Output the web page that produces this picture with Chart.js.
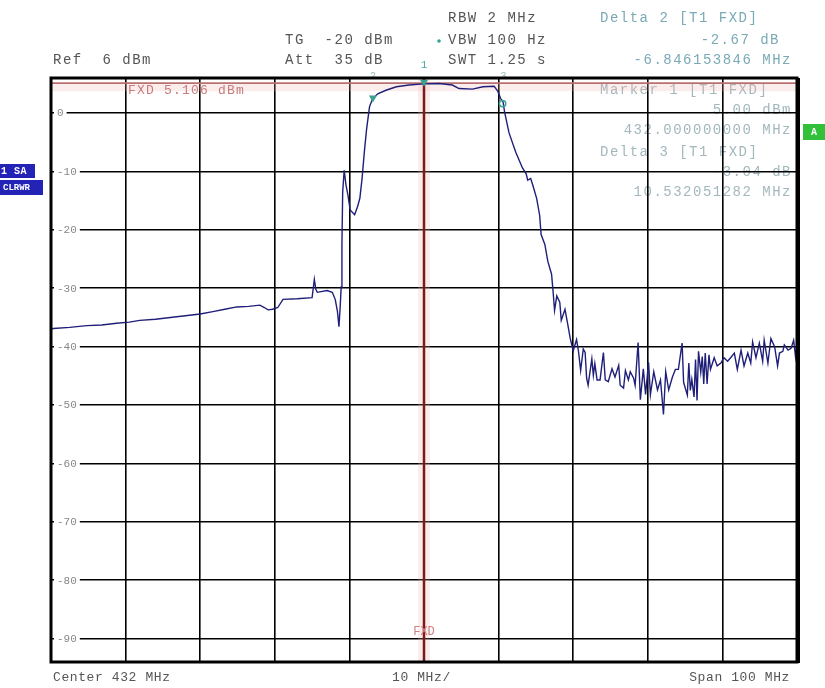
<!DOCTYPE html>
<html>
<head>
<meta charset="utf-8">
<script src="https://cdn.jsdelivr.net/npm/chart.js@4.4.1/dist/chart.umd.min.js"></script>
<style>
  html, body { margin: 0; padding: 0; background: #fff; }
  canvas { display: block; }
</style>
</head>
<body>
<canvas id="spectrum" width="825" height="688"></canvas>
<script>
// ------------------------
// Trace data
// ------------------------

const freqMHz = [
  382.0, 382.3, 384.5, 386.8, 388.8, 390.8, 392.5, 393.9, 396.0, 398.0,
  400.0, 402.0, 403.7, 405.3, 406.9, 408.5, 410.0, 410.6, 411.1, 411.7,
  412.4, 413.1, 415.0, 417.0, 417.3, 417.5, 417.7, 419.0, 419.7, 420.1,
  420.4, 420.6, 420.75, 420.9, 421.0, 421.1, 421.3, 421.55, 421.8, 422.1,
  422.7, 423.1, 423.4, 423.7, 424.0, 424.3, 424.7, 425.1, 425.8, 426.9,
  428.3, 430.0, 432.0, 434.0, 435.8, 436.7, 438.5, 439.9, 441.4, 441.9,
  442.3, 442.6, 442.8, 443.4, 444.3, 445.2, 445.7, 445.9, 446.3, 446.6,
  447.1, 447.5, 447.7, 448.2, 448.6, 449.1, 449.3, 449.5, 449.8, 450.2,
  450.4, 450.9, 451.3, 451.6, 452.0, 452.45, 452.7, 453.0, 453.35, 453.6,
  453.8, 454.0, 454.5, 454.7, 454.9, 455.2, 455.6, 456.05, 456.3, 456.7,
  457.2, 457.6, 458.1, 458.3, 458.75, 459.0, 459.4, 459.65, 460.1, 460.3,
  460.7, 461.0, 461.4, 461.7, 462.1, 462.35, 462.8, 463.3, 463.7, 464.1,
  464.4, 464.8, 465.3, 465.7, 466.1, 466.6, 466.8, 467.3, 467.5, 467.7,
  467.9, 468.2, 468.4, 468.6, 468.8, 469.1, 469.3, 469.5, 469.7, 469.95,
  470.2, 470.4, 470.9, 471.3, 471.8, 472.2, 472.7, 473.1, 473.6, 474.0,
  474.5, 474.9, 475.4, 475.8, 476.05, 476.5, 476.95, 477.4, 477.6, 478.1,
  478.5, 479.0, 479.4, 479.65, 480.1, 480.3, 480.8, 481.2, 481.55, 481.8,
  482.0
];

const levelDbm = [
  -37.0, -36.9, -36.7, -36.4, -36.3, -36.0, -35.8, -35.5, -35.3, -35.0,
  -34.7, -34.4, -34.0, -33.6, -33.2, -33.1, -32.9, -33.3, -33.7, -33.6,
  -33.3, -31.9, -31.8, -31.6, -28.5, -30.2, -30.7, -30.4, -30.7, -31.9,
  -34.0, -36.6, -33.5, -29.8, -22.5, -13.5, -9.8, -12.4, -14.0, -16.6,
  -17.4, -16.0, -14.6, -11.2, -6.7, -2.8, 1.1, 2.4, 3.3, 3.9,
  4.5, 4.8, 5.0, 5.05, 4.8, 4.2, 4.1, 4.5, 4.6, 3.7,
  2.4, 1.9, 0.2, -3.4, -6.7, -9.4, -10.4, -11.5, -11.2, -12.4,
  -14.6, -17.5, -20.8, -22.5, -25.4, -27.6, -30.5, -33.8, -31.3, -32.4,
  -35.5, -33.6, -36.4, -38.6, -40.7, -38.8, -40.7, -44.1, -40.4, -41.0,
  -45.4, -46.6, -42.1, -44.9, -42.9, -45.7, -45.7, -41.0, -45.7, -46.0,
  -43.8, -45.2, -43.2, -46.6, -47.1, -44.1, -45.7, -44.3, -45.4, -46.6,
  -39.3, -49.1, -43.8, -48.2, -42.7, -48.2, -44.3, -47.4, -45.7, -51.6,
  -44.3, -47.4, -45.2, -43.9, -43.9, -39.4, -46.1, -48.3, -42.8, -47.5,
  -45.6, -48.6, -42.2, -49.2, -40.8, -44.4, -41.7, -46.4, -41.1, -46.4,
  -41.4, -43.9, -41.9, -43.3, -42.8, -41.9, -42.5, -41.9, -41.1, -43.9,
  -40.6, -43.3, -41.1, -42.8, -39.2, -41.9, -39.4, -42.5, -38.9, -42.8,
  -38.6, -40.0, -43.3, -41.1, -40.8, -39.7, -40.6, -40.3, -38.9, -41.7,
  -39.5
];

// Axis grid
const xTicks = [382, 392, 402, 412, 422, 432, 442, 452, 462, 472, 482];
const yTicks = [0, -10, -20, -30, -40, -50, -60, -70, -80, -90];
const yLabels = ["0", "-10", "-20", "-30", "-40", "-50", "-60", "-70", "-80", "-90"];

// Markers: 1 (T1), delta 2, delta 3
const markerNames = ["1", "2", "3"];
const markerFreq = [432.0, 425.154, 442.532];
const markerLevel = [5.00, 2.33, 1.96];

// Fixed display lines
const fxdLevel = 5.106;
const fxdFreq = 432;

const FONT = '"Liberation Mono", "DejaVu Sans Mono", monospace';

function txt(ctx, s, x, y, opts) {
    const o = opts || {};
    ctx.save();
    ctx.font = (o.weight || "") + " " + (o.size || 14) + "px " + FONT;
    ctx.fillStyle = o.color || "#555";
    ctx.textAlign = o.align || "left";
    ctx.textBaseline = "middle";
    ctx.letterSpacing = (o.spacing === undefined ? 1.5 : o.spacing) + "px";
    ctx.fillText(s, x, y);
    ctx.restore();
}

// ------------------------
// Analyzer decorations
// ------------------------

const analyzerPlugin = {

    id: "analyzer",

    beforeDraw(chart) {

        const ctx = chart.ctx;

        ctx.save();
        ctx.fillStyle = "#fff";
        ctx.fillRect(0, 0, chart.width, chart.height);
        ctx.restore();

        // header
        txt(ctx, "RBW 2 MHz", 448, 18);
        txt(ctx, "VBW 100 Hz", 448, 40);
        txt(ctx, "SWT 1.25 s", 448, 60);
        txt(ctx, "TG  -20 dBm", 285, 40);
        txt(ctx, "Att  35 dB", 285, 60);
        txt(ctx, "Ref  6 dBm", 53, 60);

        ctx.save();
        ctx.fillStyle = "#3aa090";
        ctx.beginPath();
        ctx.arc(439, 41, 1.8, 0, Math.PI * 2);
        ctx.fill();
        ctx.restore();

        const teal = "#79aab6";
        txt(ctx, "Delta 2 [T1 FXD]", 600, 18, { color: teal });
        txt(ctx, "-2.67 dB", 780, 40, { color: teal, align: "right" });
        txt(ctx, "-6.846153846 MHz", 792, 60, { color: teal, align: "right" });

        // marker readout, drawn under the grid
        const pale = "#a3b8bd";
        txt(ctx, "Marker 1 [T1 FXD]", 600, 90, { color: pale });
        txt(ctx, "5.00 dBm", 792, 110, { color: pale, align: "right" });
        txt(ctx, "432.000000000 MHz", 792, 130, { color: pale, align: "right" });
        txt(ctx, "Delta 3 [T1 FXD]", 600, 152, { color: pale });
        txt(ctx, "-3.04 dB", 792, 172, { color: pale, align: "right" });
        txt(ctx, "10.532051282 MHz", 792, 192, { color: pale, align: "right" });

        // footer
        txt(ctx, "Center 432 MHz", 53, 678, { size: 13, spacing: 0.6 });
        txt(ctx, "10 MHz/", 392, 678, { size: 13, spacing: 0.6 });
        txt(ctx, "Span 100 MHz", 790, 678, { size: 13, spacing: 0.6, align: "right" });

        // side tags
        ctx.save();
        ctx.fillStyle = "#2323b5";
        ctx.fillRect(0, 164, 35, 14);
        ctx.fillRect(0, 180, 43, 15);
        ctx.fillStyle = "#32bf3a";
        ctx.fillRect(803, 124, 22, 16);
        ctx.restore();
        txt(ctx, "1 SA", 1, 171, { size: 10, color: "#fff", spacing: 0.5, weight: "bold" });
        txt(ctx, "CLRWR", 3, 188, { size: 9, color: "#fff", spacing: 0, weight: "bold" });
        txt(ctx, "A", 814, 132, { size: 10, color: "#fff", spacing: 0, align: "center", weight: "bold" });
    },

    beforeDatasetsDraw(chart) {

        const ctx = chart.ctx;
        const area = chart.chartArea;
        const x = chart.scales.x;
        const y = chart.scales.y;

        // y labels sitting on the grid lines
        ctx.save();
        ctx.font = "11px " + FONT;
        ctx.textBaseline = "middle";
        yTicks.forEach((v, i) => {
            const py = y.getPixelForValue(v);
            const w = ctx.measureText(yLabels[i]).width;
            ctx.fillStyle = "#fff";
            ctx.fillRect(area.left + 3, py - 4, w + 6, 8);
            ctx.fillStyle = "#888";
            ctx.fillText(yLabels[i], area.left + 6, py + 0.5);
        });
        ctx.restore();

        // fixed level / frequency lines
        const ly = y.getPixelForValue(fxdLevel);
        const lx = x.getPixelForValue(fxdFreq);

        ctx.save();
        ctx.fillStyle = "rgba(240, 175, 175, 0.22)";
        ctx.fillRect(area.left, ly, area.right - area.left, 8);
        ctx.fillRect(lx - 6, area.top, 12, area.bottom - area.top);

        ctx.strokeStyle = "#b87070";
        ctx.lineWidth = 1.8;
        ctx.beginPath();
        ctx.moveTo(area.left, ly);
        ctx.lineTo(area.right, ly);
        ctx.stroke();

        ctx.strokeStyle = "#7a1a1a";
        ctx.lineWidth = 2.5;
        ctx.beginPath();
        ctx.moveTo(lx, area.top);
        ctx.lineTo(lx, area.bottom);
        ctx.stroke();
        ctx.restore();

        txt(ctx, "FXD 5.106 dBm", 128, 91, { color: "#c97a7a", size: 13, spacing: 1.2 });
        txt(ctx, "FXD", lx, 632, { color: "#d08080", size: 12, spacing: 0, align: "center" });
    },

    afterDatasetsDraw(chart) {

        const ctx = chart.ctx;
        const area = chart.chartArea;
        const x = chart.scales.x;
        const y = chart.scales.y;

        // markers
        ctx.save();
        markerFreq.forEach((f, i) => {
            const px = x.getPixelForValue(f);
            const py = y.getPixelForValue(markerLevel[i]);
            ctx.fillStyle = "#3aa090";
            ctx.strokeStyle = "#3aa090";
            ctx.lineWidth = 1.5;
            if (i === 2) {
                ctx.beginPath();
                ctx.arc(px, py + 2, 3.2, 0, Math.PI * 2);
                ctx.stroke();
            } else {
                ctx.beginPath();
                ctx.moveTo(px - 4, py - 4);
                ctx.lineTo(px + 4, py - 4);
                ctx.lineTo(px, py + 3);
                ctx.closePath();
                ctx.fill();
            }
        });
        ctx.restore();

        txt(ctx, markerNames[0], x.getPixelForValue(markerFreq[0]), 65, { color: "#4aa8a0", size: 11, spacing: 0, align: "center" });
        txt(ctx, markerNames[1], x.getPixelForValue(markerFreq[1]), 76, { color: "#9ab8b8", size: 10, spacing: 0, align: "center" });
        txt(ctx, markerNames[2], x.getPixelForValue(markerFreq[2]) + 1, 76, { color: "#9ab8b8", size: 10, spacing: 0, align: "center" });

        // outer frame
        ctx.save();
        ctx.strokeStyle = "#000";
        ctx.lineWidth = 3;
        ctx.strokeRect(area.left, area.top, area.right - area.left, area.bottom - area.top);
        ctx.fillStyle = "#000";
        ctx.fillRect(area.right - 1, area.top, 4, area.bottom - area.top + 1);
        ctx.restore();
    }
};

// ------------------------
// Chart
// ------------------------

new Chart(document.getElementById("spectrum"), {

    type: "line",

    data: {
        datasets: [{
            label: "1 SA CLRWR",
            data: freqMHz.map((f, i) => ({ x: f, y: levelDbm[i] })),
            borderColor: "#1f1f7a",
            borderWidth: 1.4,
            pointRadius: 0,
            tension: 0,
            fill: false
        }]
    },

    options: {
        responsive: false,
        animation: false,
        devicePixelRatio: 1,
        layout: {
            padding: { left: 51, top: 78, right: 28, bottom: 26 }
        },
        plugins: {
            legend: { display: false },
            tooltip: { enabled: false }
        },
        scales: {
            x: {
                type: "linear",
                min: 382,
                max: 482,
                afterBuildTicks: axis => { axis.ticks = xTicks.map(v => ({ value: v })); },
                ticks: { display: false },
                border: { display: false },
                grid: { color: "#000", lineWidth: 1.6, drawTicks: false }
            },
            y: {
                type: "linear",
                min: -94,
                max: 6,
                afterBuildTicks: axis => { axis.ticks = yTicks.map(v => ({ value: v })); },
                ticks: { display: false },
                border: { display: false },
                grid: { color: "#000", lineWidth: 1.6, drawTicks: false }
            }
        }
    },

    plugins: [analyzerPlugin]

});
</script>
</body>
</html>
